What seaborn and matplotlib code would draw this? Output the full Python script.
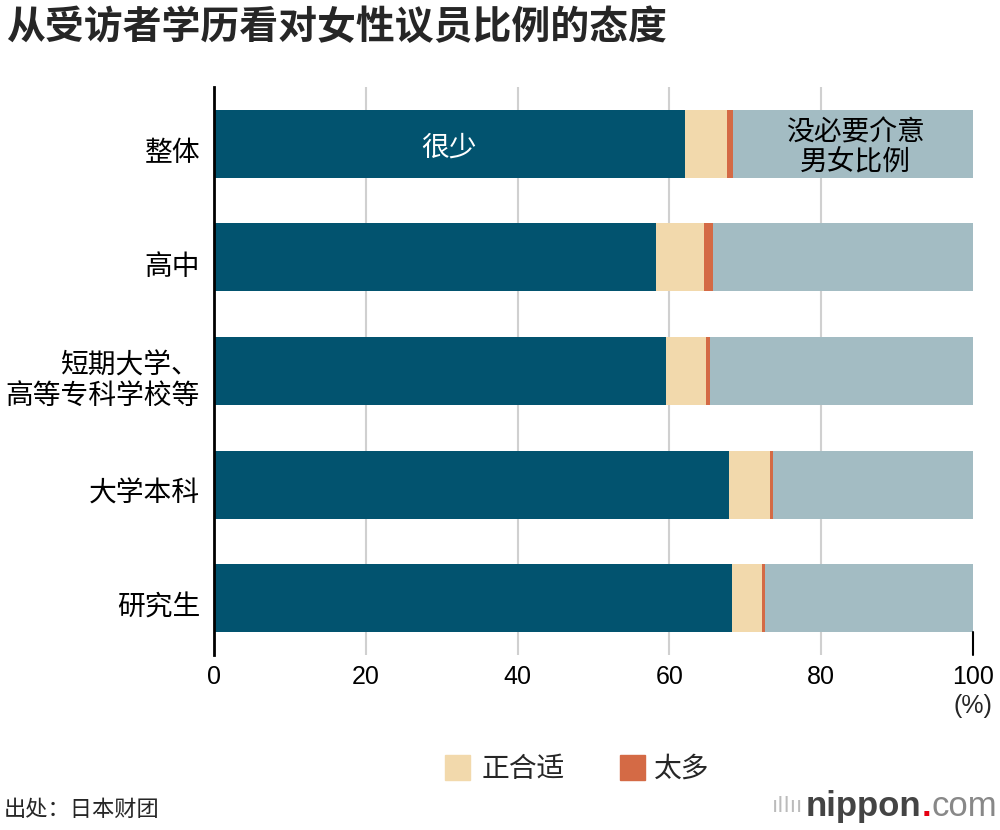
import matplotlib
matplotlib.use("Agg")
import matplotlib.pyplot as plt
import matplotlib.transforms as mtransforms
import seaborn as sns
import numpy as np
import pandas as pd
from matplotlib.patches import Rectangle

categories = ["整体", "高中", "短期大学、\n高等专科学校等", "大学本科", "研究生"]
few = [62.1, 58.3, 59.6, 67.9, 68.2]          # 很少
just_right = [5.5, 6.2, 5.2, 5.3, 4.0]         # 正合适
too_many = [0.8, 1.2, 0.6, 0.5, 0.4]           # 太多
no_need = [31.6, 34.3, 34.6, 26.3, 27.4]       # 没必要介意男女比例
xticks = [0, 20, 40, 60, 80, 100]

C_DARK = "#02536F"
C_BEIGE = "#F2D9AC"
C_ORANGE = "#D46A45"
C_GREY = "#A3BCC3"
NUMFONT = ['Liberation Sans', 'DejaVu Sans']

sns.set_theme(style="white")
plt.rcParams['font.family'] = ['Noto Sans CJK SC', 'DejaVu Sans']

df = pd.DataFrame({"cat": categories, "few": few, "right": just_right,
                   "many": too_many, "noneed": no_need})
df["c1"] = df["few"]
df["c2"] = df["c1"] + df["right"]
df["c3"] = df["c2"] + df["many"]
df["c4"] = df["c3"] + df["noneed"]

fig = plt.figure(figsize=(10, 8.3), dpi=100)
ax = fig.add_axes([0.214, 1 - 655 / 830, 0.759, (655 - 87) / 830])

for ccol, color in [("c4", C_GREY), ("c3", C_ORANGE), ("c2", C_BEIGE), ("c1", C_DARK)]:
    sns.barplot(data=df, x=ccol, y="cat", color=color, orient="h", width=0.6,
                saturation=1, ax=ax, zorder=3, linewidth=0)

ax.set_xlim(0, 100)
ax.set_ylim(4.5, -0.5)
ax.set_xlabel("")
ax.set_ylabel("")
ax.set_xticks(xticks)
ax.set_xticklabels([str(t) for t in xticks], fontsize=18, family=NUMFONT)
ax.tick_params(axis='x', length=0, pad=7, colors='black')
ax.tick_params(axis='y', length=0, pad=10)
down = mtransforms.ScaledTranslation(0, -0.06, fig.dpi_scale_trans)
for lbl in ax.get_yticklabels():
    lbl.set_fontsize(20)
    lbl.set_color("black")
    lbl.set_horizontalalignment('right')
    lbl.set_multialignment('right')
    lbl.set_linespacing(1.0)
    lbl.set_transform(lbl.get_transform() + down)

for s in ["top", "right", "bottom"]:
    ax.spines[s].set_visible(False)
ax.spines["left"].set_color("black")
ax.spines["left"].set_linewidth(2)
ax.spines["left"].set_zorder(5)

for t in [20, 40, 60, 80]:
    ax.axvline(t, color="#d0d0d0", lw=1.5, zorder=1)
ax.plot([100, 100], [4.5, 4.3], color="black", lw=1.5, zorder=4, clip_on=False)

down4 = mtransforms.ScaledTranslation(0, -0.04, fig.dpi_scale_trans)
ax.text(31, 0, "很少", color="white", fontsize=20, ha="center", va="center", zorder=6,
        transform=ax.transData + down4)
ax.text(84.5, 0, "没必要介意\n男女比例", color="black", fontsize=20, ha="center", va="center",
        zorder=6, linespacing=1.0, transform=ax.transData + down4)

fig.text(973 / 1000, 1 - 706 / 830, "(%)", fontsize=18, ha="center", va="center", family=NUMFONT)

fig.text(6 / 1000, 1 - 28 / 830, "从受访者学历看对女性议员比例的态度", fontsize=28,
         fontweight="bold", ha="left", va="center")

# legend
fig.patches.append(Rectangle((445 / 1000, 1 - 780 / 830), 25 / 1000, 25 / 830,
                             transform=fig.transFigure, color=C_BEIGE))
fig.text(482 / 1000, 1 - 769 / 830, "正合适", fontsize=20, ha="left", va="center")
fig.patches.append(Rectangle((620 / 1000, 1 - 780 / 830), 25 / 1000, 25 / 830,
                             transform=fig.transFigure, color=C_ORANGE))
fig.text(654 / 1000, 1 - 769 / 830, "太多", fontsize=20, ha="left", va="center")

fig.text(4 / 1000, 1 - 809 / 830, "出处：日本财团", fontsize=16, ha="left", va="center")

# nippon.com mark
renderer = fig.canvas.get_renderer()
ylogo = 1 - 806 / 830
fig.text(772 / 1000, ylogo, "ıllıı", fontsize=16, color="#bbbbbb", ha="left", va="center",
         family=['DejaVu Sans'])
t1 = fig.text(806 / 1000, ylogo, "nippon", fontsize=25, color="#444444", fontweight="bold",
              ha="left", va="center", family=NUMFONT)
x = t1.get_window_extent(renderer).x1 / 1000
t2 = fig.text(x, ylogo, ".", fontsize=25, color="#e60012", fontweight="bold",
              ha="left", va="center", family=NUMFONT)
x = t2.get_window_extent(renderer).x1 / 1000
fig.text(x, ylogo, "com", fontsize=25, color="#888888",
         ha="left", va="center", family=NUMFONT)

fig.savefig("out.png", dpi=100)
